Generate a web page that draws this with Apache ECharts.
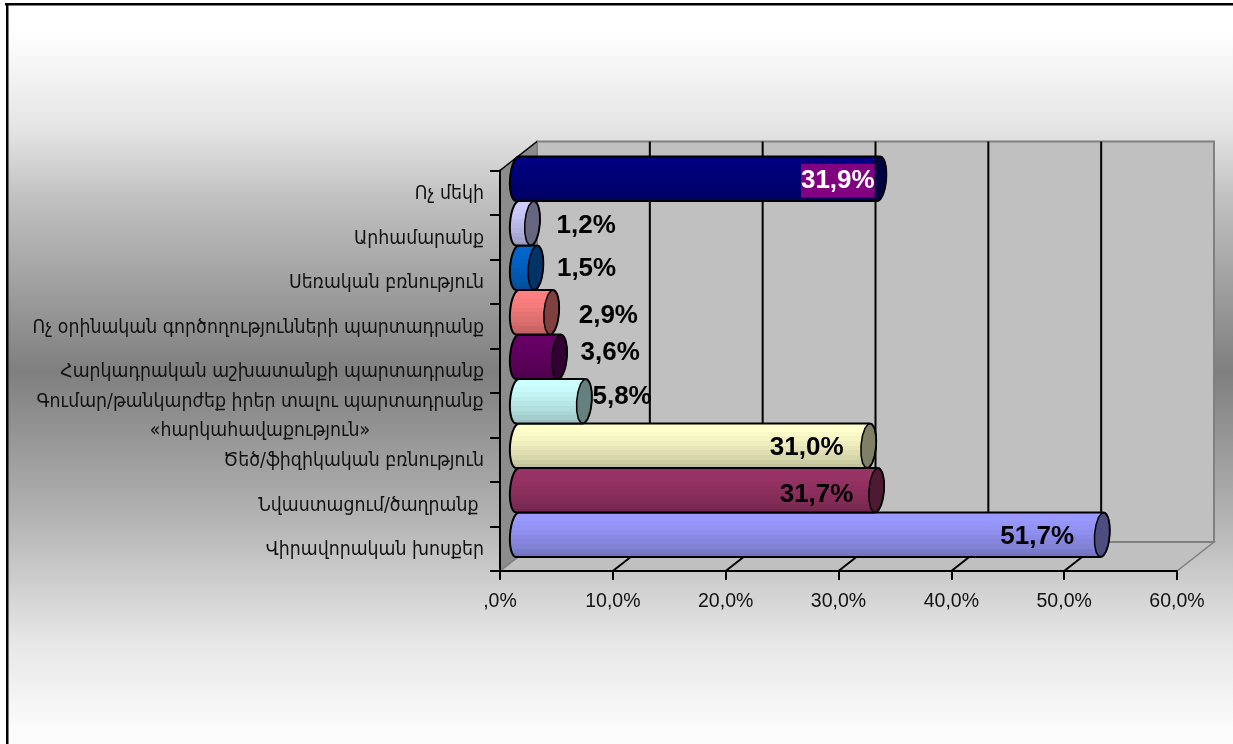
<!DOCTYPE html>
<html>
<head>
    <meta charset="utf-8" />
    <title>Chart</title>
    <style>
        html, body { margin: 0; padding: 0; background: #fff; }
        #chart { width: 1233px; height: 744px; }
    </style>
    <script src="https://cdn.jsdelivr.net/npm/echarts@6/dist/echarts.min.js"></script>
</head>
<body>
    <div id="chart"></div>
    <script>
        // bottom category first, as on the axis
        var categories = [
            "Վիրավորական խոսքեր",
            "Նվաստացում/ծաղրանք ",
            "Ծեծ/ֆիզիկական բռնություն",
            "Գումար/թանկարժեք իրեր տալու պարտադրանք\n«հարկահավաքություն»",
            "Հարկադրական աշխատանքի պարտադրանք",
            "Ոչ օրինական գործողությունների պարտադրանք",
            "Սեռական բռնություն",
            "Արհամարանք",
            "Ոչ մեկի"
        ];
        var values = [51.7, 31.7, 31.0, 5.8, 3.6, 2.9, 1.5, 1.2, 31.9];
        var tickValues = [10, 20, 30, 40, 50];
        var tickLabels = [",0%", "10,0%", "20,0%", "30,0%", "40,0%", "50,0%", "60,0%"];

        // styles, kept apart from the data
        var barColors = ["#9999FF", "#993366", "#FFFFCC", "#CCFFFF", "#660066", "#FF8080", "#0066CC", "#CCCCFF", "#000080"];
        var labelOffsets = [[-83, -12], [-78, -9], [-80, -12], [27, -18], [40, -18], [46, -10], [40, -13], [43, -11], [-59, -12]];
        var bands = [1, 1, 0.98, 0.96, 0.93, 0.9, 0.87, 0.84, 0.8, 0.76];

        var depthX = 37, depthY = -29;   // front axis to back wall
        var barShiftX = 18.7, barShiftY = -14;   // bars stand half way in
        var capRx = 7.5;

        function shade(hex, k) {
            var n = parseInt(hex.slice(1), 16);
            var r = Math.round((n >> 16) * k), g = Math.round(((n >> 8) & 255) * k), b = Math.round((n & 255) * k);
            return "rgb(" + r + "," + g + "," + b + ")";
        }

        function bandGradient(hex) {
            var stops = [];
            for (var i = 0; i < bands.length; i++) {
                stops.push({ offset: i / bands.length, color: shade(hex, bands[i]) });
                stops.push({ offset: (i + 1) / bands.length, color: shade(hex, bands[i]) });
            }
            return new echarts.graphic.LinearGradient(0, 0, 0, 1, stops);
        }

        // slightly leaning ellipse, from angle a to b
        function arc(cx, cy, rx, ry, a, b) {
            var pts = [];
            for (var i = 0; i <= 14; i++) {
                var t = a + (b - a) * i / 14;
                pts.push([cx + rx * Math.cos(t) - 1.5 * Math.sin(t), cy + ry * Math.sin(t)]);
            }
            return pts;
        }

        function renderWall(params, api) {
            var g = params.coordSys;
            var x0 = g.x, x1 = g.x + g.width, y0 = g.y, y1 = g.y + g.height;
            return {
                type: "group",
                children: [
                    { type: "polygon", shape: { points: [[x0, y1], [x0 + depthX, y1 + depthY], [x1 + depthX, y1 + depthY], [x1, y1]] },
                      style: { fill: "#C0C0C0", stroke: "#808080", lineWidth: 1.5 } },
                    { type: "polygon", shape: { points: [[x0, y0], [x0 + depthX, y0 + depthY], [x0 + depthX, y1 + depthY], [x0, y1]] },
                      style: { fill: "#8C8C8C", stroke: "#808080", lineWidth: 1.5 } },
                    { type: "rect", shape: { x: x0 + depthX, y: y0 + depthY, width: g.width, height: g.height },
                      style: { fill: "#C0C0C0", stroke: "#808080", lineWidth: 2 } },
                    { type: "line", shape: { x1: x0, y1: y0, x2: x0 + depthX, y2: y0 + depthY },
                      style: { stroke: "#000", lineWidth: 1.5 } }
                ]
            };
        }

        function renderGridLine(params, api) {
            var g = params.coordSys;
            var x = api.coord([api.value(0), 0])[0];
            var y1 = g.y + g.height;
            return {
                type: "polyline",
                shape: { points: [[x, y1], [x + depthX, y1 + depthY], [x + depthX, g.y + depthY]] },
                style: { fill: null, stroke: "#000", lineWidth: 2 }
            };
        }

        function renderBar(params, api) {
            var i = params.dataIndex;
            var p = api.coord([api.value(0), api.value(1)]);
            var base = api.coord([0, api.value(1)]);
            var ry = api.size([0, 1])[1] / 2;
            var cy = p[1] + barShiftY;
            var cx = p[0] + barShiftX;
            var left = arc(base[0] + 17.5, cy, 7.5, ry, Math.PI * 1.5, Math.PI * 0.5);
            var right = arc(cx, cy, capRx, ry, Math.PI * 0.5, -Math.PI * 0.5);
            var off = labelOffsets[i];
            var isHighlight = i === values.length - 1;
            return {
                type: "group",
                children: [
                    { type: "polygon", shape: { points: left.concat(right) },
                      style: { fill: bandGradient(barColors[i]), stroke: "#000", lineWidth: 2 } },
                    { type: "polygon", shape: { points: arc(cx, cy, capRx, ry, 0, Math.PI * 2) },
                      style: { fill: shade(barColors[i], 0.5), stroke: "#000", lineWidth: 1.5 } },
                    { type: "text", z2: 50, x: p[0] + off[0], y: p[1] + off[1],
                      style: {
                          text: api.value(0).toFixed(1).replace(".", ",") + "%",
                          font: "bold 26px 'Liberation Sans'",
                          fill: isHighlight ? "#fff" : "#000",
                          backgroundColor: isHighlight ? "#800080" : null,
                          padding: isHighlight ? [4, 0, 4, 0] : 0,
                          align: "left",
                          verticalAlign: "middle"
                      } }
                ]
            };
        }

        var chart = echarts.init(document.getElementById("chart"), null, { renderer: "canvas" });
        var barData = values.map(function (v, i) { return [v, i]; });

        chart.setOption({
            animation: false,
            backgroundColor: "#fff",
            graphic: [
                { type: "rect", z: -10, shape: { x: 8, y: 5, width: 1225, height: 739 },
                  style: { fill: new echarts.graphic.LinearGradient(0, 0, 0, 744, [
                      { offset: 30 / 744, color: "#FFFFFF" },
                      { offset: 130 / 744, color: "#E4E4E4" },
                      { offset: 200 / 744, color: "#C0C0C0" },
                      { offset: 372 / 744, color: "#7F7F7F" },
                      { offset: 510 / 744, color: "#B0B0B0" },
                      { offset: 640 / 744, color: "#E6E6E6" },
                      { offset: 730 / 744, color: "#FCFCFC" }
                  ], true) } },
                { type: "rect", z: -9, shape: { x: 5, y: 3, width: 1228, height: 2.5 }, style: { fill: "#000" } },
                { type: "rect", z: -9, shape: { x: 6, y: 3, width: 2.5, height: 741 }, style: { fill: "#000" } }
            ],
            grid: { left: 500, top: 170.5, width: 677, height: 400.5 },
            xAxis: {
                type: "value", min: 0, max: 60, interval: 10,
                axisLine: { show: true, onZero: false, lineStyle: { color: "#000", width: 2 } },
                axisTick: { show: true, length: 9, lineStyle: { color: "#000", width: 2 } },
                splitLine: { show: false },
                axisLabel: {
                    margin: 21, color: "#111", fontFamily: "Liberation Sans", fontSize: 19.5,
                    hideOverlap: false, showMinLabel: true, showMaxLabel: true,
                    formatter: function (v) { return tickLabels[Math.round(v / 10)]; }
                }
            },
            yAxis: {
                type: "category", data: categories, boundaryGap: true,
                axisLine: { show: true, lineStyle: { color: "#000", width: 2 } },
                axisTick: { show: true, length: 10, alignWithLabel: false, lineStyle: { color: "#000", width: 2 } },
                axisLabel: {
                    margin: 16, interval: 0, color: "#111", align: "right", padding: [3, 0, 0, 0],
                    fontFamily: "DejaVu Sans Condensed", fontSize: 19.3, lineHeight: 29,
                    formatter: function (v) {
                        if (v.indexOf("\n") < 0) return v;
                        return v.split("\n").map(function (s) { return "{c|" + s + "}"; }).join("\n");
                    },
                    rich: { c: { width: 448, align: "center", fontFamily: "DejaVu Sans Condensed", fontSize: 19.3, color: "#111", lineHeight: 29 } }
                }
            },
            series: [
                { type: "custom", silent: true, clip: false, z: -1, data: [[0, 0]], encode: { x: 0, y: 1 }, renderItem: renderWall },
                { type: "custom", silent: true, clip: false, z: 0, data: tickValues.map(function (v) { return [v, 0]; }), encode: { x: 0, y: 1 }, renderItem: renderGridLine },
                { type: "custom", silent: true, clip: false, z: 3, data: barData, encode: { x: 0, y: 1 }, renderItem: renderBar }
            ]
        });
    </script>
</body>
</html>
